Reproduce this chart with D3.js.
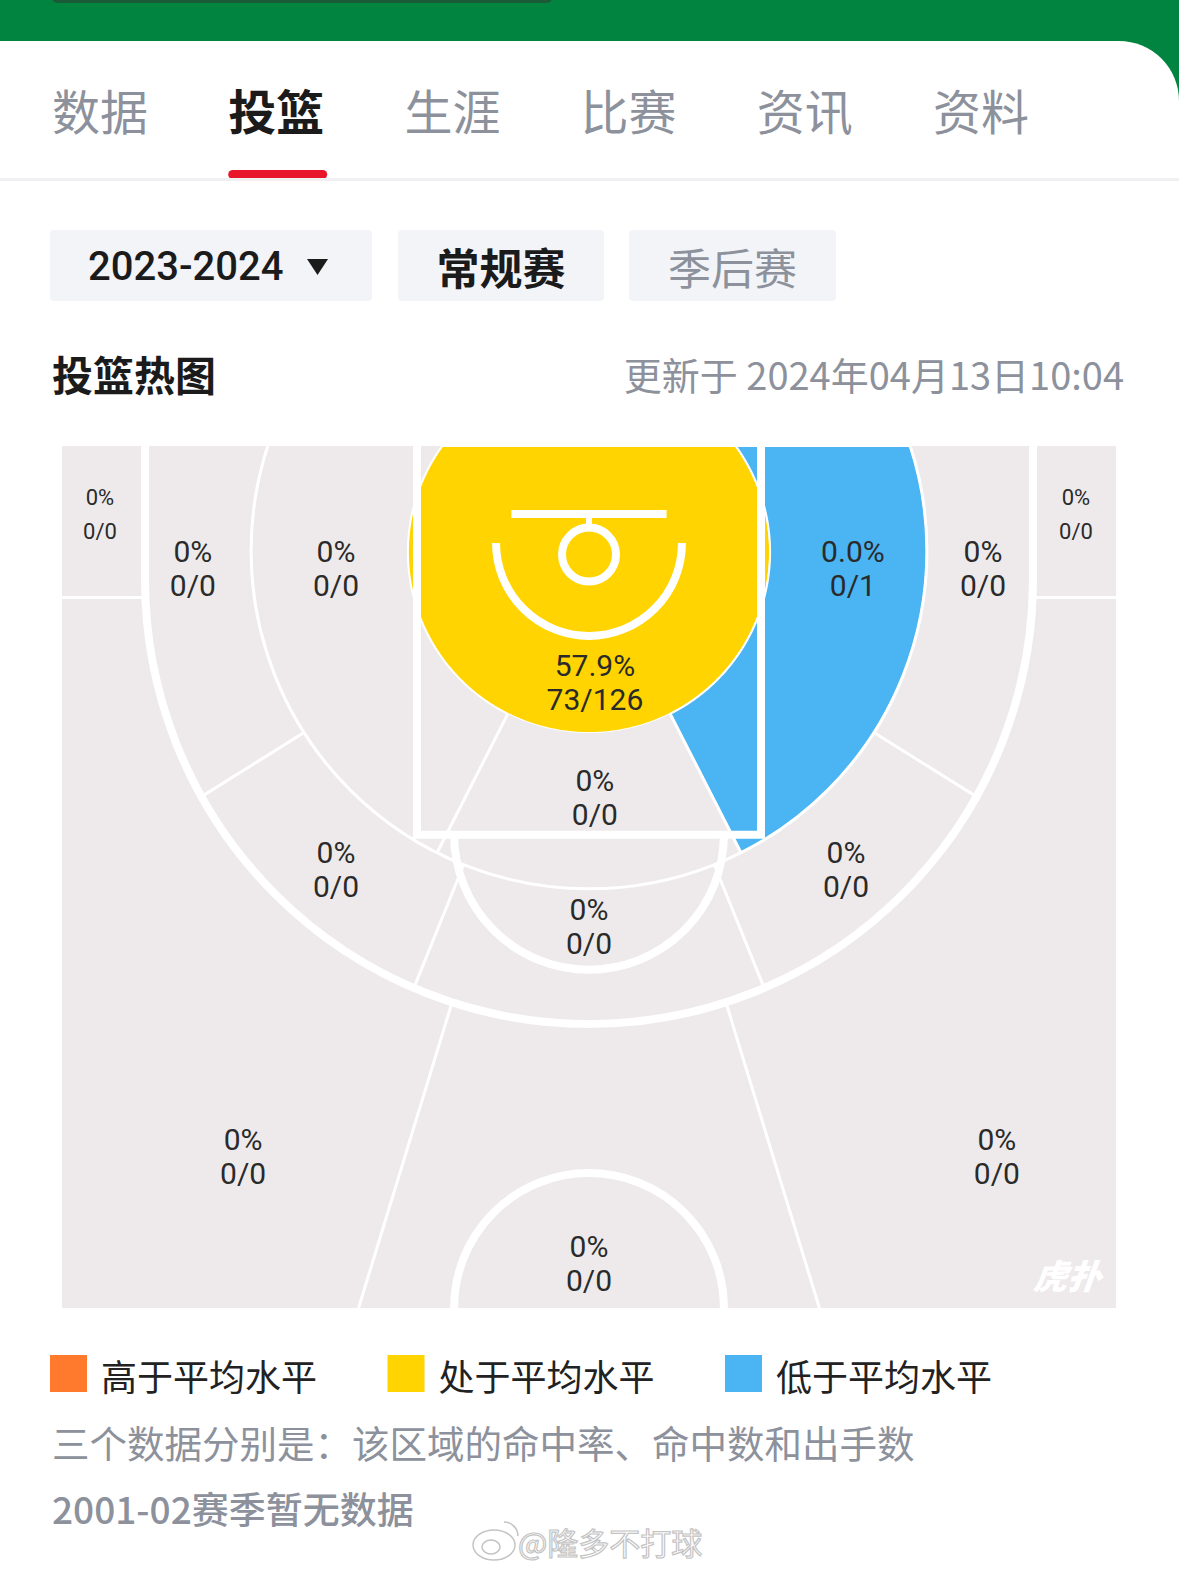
<!DOCTYPE html>
<html lang="zh">
<head>
<meta charset="utf-8">
<title>投篮热图</title>
<script src="https://cdn.jsdelivr.net/npm/d3@7"></script>
<style>
  body { margin: 0; background: #fff; }
  svg { display: block; }
</style>
</head>
<body>
<div id="chart"></div>
<script>
// ---- data ----
var zoneIds   = ['corner3L', 'corner3R', 'baseL', 'innerL', 'ra', 'innerR', 'baseR', 'paint', 'wingL', 'wingR', 'topMid', 'wing3L', 'wing3R', 'top3'];
var zonePct   = ['0%', '0%', '0%', '0%', '57.9%', '0.0%', '0%', '0%', '0%', '0%', '0%', '0%', '0%', '0%'];
var zoneMade  = [0, 0, 0, 0, 73, 0, 0, 0, 0, 0, 0, 0, 0, 0];
var zoneShots = [0, 0, 0, 0, 126, 1, 0, 0, 0, 0, 0, 0, 0, 0];
var zoneLevel = ['none', 'none', 'none', 'none', 'avg', 'below', 'none', 'none', 'none', 'none', 'none', 'none', 'none', 'none'];

var levelKeys   = ['above', 'avg', 'below'];
var levelLabels = ['高于平均水平', '处于平均水平', '低于平均水平'];

var tabLabels  = ['数据', '投篮', '生涯', '比赛', '资讯', '资料'];
var activeTab  = '投篮';
var seasonLabel = '2023-2024';
var typeLabels = ['常规赛', '季后赛'];
var activeType = '常规赛';
var titleLabel = '投篮热图';
var updatedLabel = '更新于 2024年04月13日10:04';
var noteLabel = '三个数据分别是：该区域的命中率、命中数和出手数';
var missingLabel = '2001-02赛季暂无数据';
var watermark = '@隆多不打球';

var color = d3.scaleOrdinal()
  .domain(['above', 'avg', 'below', 'none'])
  .range(['#ff7a2c', '#ffd400', '#4bb4f2', '#eeeaeb']);

var CJK = '"Noto Sans CJK SC", "Noto Sans", sans-serif';
var NUM = 'Roboto, "Noto Sans", sans-serif';

var W = 1179, H = 1572;
var svg = d3.select('#chart').append('svg').attr('width', W).attr('height', H);

// ---- page chrome ----
svg.append('rect').attr('width', W).attr('height', 130).attr('fill', '#00843f');
svg.append('rect').attr('x', 52).attr('y', -8).attr('width', 500).attr('height', 11).attr('rx', 5).attr('fill', '#1b5a37');
svg.append('path').attr('d', 'M0,41 H1119 A60,60 0 0 1 1179,101 V' + H + ' H0 Z').attr('fill', '#fff');

var tabX = d3.scalePoint().domain(tabLabels).range([52, 933]);
svg.selectAll('text.tab').data(tabLabels).enter().append('text')
  .attr('class', 'tab')
  .attr('x', function(d) { return tabX(d); })
  .attr('y', 109)
  .attr('dominant-baseline', 'central')
  .attr('font-family', CJK)
  .attr('font-size', 48)
  .attr('font-weight', function(d) { return d === activeTab ? 700 : 400; })
  .attr('fill', function(d) { return d === activeTab ? '#1b1b1b' : '#8c919c'; })
  .text(function(d) { return d; });
svg.append('rect').attr('x', tabX(activeTab)).attr('y', 170).attr('width', 99).attr('height', 9).attr('rx', 4.5).attr('fill', '#e9152b');
svg.append('rect').attr('x', 0).attr('y', 178).attr('width', W).attr('height', 3).attr('fill', '#f0f0f2');

// season + type selectors
svg.append('rect').attr('x', 50).attr('y', 230).attr('width', 322).attr('height', 71).attr('rx', 4).attr('fill', '#f2f4f8');
svg.append('text').attr('x', 88).attr('y', 266).attr('dominant-baseline', 'central')
  .attr('font-family', NUM).attr('font-size', 40).attr('font-weight', 500).attr('fill', '#1b1b1b')
  .text(seasonLabel);
svg.append('path').attr('d', 'M307,259 L328,259 L317.5,275 Z').attr('fill', '#1b1b1b');

var typeBox = [[398, 206], [629, 207]];
var typeG = svg.selectAll('g.type').data(typeLabels).enter().append('g').attr('class', 'type');
typeG.append('rect')
  .attr('x', function(d, i) { return typeBox[i][0]; }).attr('y', 230)
  .attr('width', function(d, i) { return typeBox[i][1]; }).attr('height', 71)
  .attr('rx', 4).attr('fill', '#f2f4f8');
typeG.append('text')
  .attr('x', function(d, i) { return typeBox[i][0] + typeBox[i][1] / 2; }).attr('y', 266)
  .attr('text-anchor', 'middle').attr('dominant-baseline', 'central')
  .attr('font-family', CJK).attr('font-size', 43)
  .attr('font-weight', function(d) { return d === activeType ? 700 : 400; })
  .attr('fill', function(d) { return d === activeType ? '#1b1b1b' : '#8c919c'; })
  .text(function(d) { return d; });

svg.append('text').attr('x', 52).attr('y', 373).attr('dominant-baseline', 'central')
  .attr('font-family', CJK).attr('font-size', 41).attr('font-weight', 700).attr('fill', '#1b1b1b')
  .text(titleLabel);
svg.append('text').attr('x', 1124).attr('y', 373).attr('dominant-baseline', 'central').attr('text-anchor', 'end')
  .attr('font-family', CJK).attr('font-size', 38).attr('fill', '#8c919c')
  .text(updatedLabel);

// ---- court, in feet with the baseline on top ----
var courtLen = 40.9;
var x = d3.scaleLinear().domain([-25, 25]).range([62, 1116]);
var y = d3.scaleLinear().domain([0, courtLen]).range([446, 1308]);
var k = x(1) - x(0);

var hoop = { x: 0, y: 5.15 };
var raCircle = { cx: 0, cy: 5.03, r: 8.59 };
var midArc = { cx: 0, cy: 4.98, r: 16.03 };
var three = { cx: 0, cy: 6.36, r: 21.06 };
var paintHalf = 8.16, paintLen = 18.45, ftR = 6.4, cornerY = 7.19;

// angle a in degrees from straight down, positive towards +x
function dir(a) { var t = a * Math.PI / 180; return [Math.sin(t), Math.cos(t)]; }
function hitCircle(c, a) {
  var d = dir(a), wx = hoop.x - c.cx, wy = hoop.y - c.cy;
  var b = wx * d[0] + wy * d[1];
  return -b + Math.sqrt(b * b - (wx * wx + wy * wy) + c.r * c.r);
}
function hitCourt(a) {
  var d = dir(a), t = Infinity;
  if (d[1] < -1e-9) t = Math.min(t, -hoop.y / d[1]);
  if (d[1] > 1e-9) t = Math.min(t, (courtLen - hoop.y) / d[1]);
  if (Math.abs(d[0]) > 1e-9) t = Math.min(t, 25 / Math.abs(d[0]));
  return t;
}
function hitThree(a) {
  var d = dir(a), t = hitCircle(three, a);
  if (hoop.y + t * d[1] < three.cy && Math.abs(d[0]) > 1e-9) t = three.r / Math.abs(d[0]);
  return t;
}
var bound = {
  hoop: function() { return 0; },
  ra: function(a) { return Math.min(hitCircle(raCircle, a), hitCourt(a)); },
  mid: function(a) { return Math.min(hitCircle(midArc, a), hitCourt(a)); },
  three: function(a) { return Math.min(hitThree(a), hitCourt(a)); },
  court: hitCourt,
  // beyond the arc, but not into the corner boxes
  court3: function(a) {
    var t = bound.three(a), d = dir(a);
    if (hoop.y + t * d[1] < cornerY) return t;
    return hitCourt(a);
  }
};

// zone outlines + where the label sits (feet)
var zoneShape = {
  corner3L: { rect: [-25, 0, -three.r, cornerY], label: [-23.2, 3.23], small: true },
  corner3R: { rect: [three.r, 0, 25, cornerY], label: [23.1, 3.23], small: true },
  baseL:  { from: -180, to: -58, inner: 'mid', outer: 'three', label: [-18.79, 5.83] },
  innerL: { from: -180, to: -27, inner: 'ra', outer: 'mid', label: [-12.0, 5.83] },
  ra:     { from: -180, to: 180, inner: 'hoop', outer: 'ra', label: [0.28, 11.24] },
  innerR: { from: 27, to: 180, inner: 'ra', outer: 'mid', label: [12.52, 5.83] },
  baseR:  { from: 58, to: 180, inner: 'mid', outer: 'three', label: [18.69, 5.83] },
  paint:  { from: -27, to: 27, inner: 'ra', outer: 'mid', label: [0.28, 16.7] },
  wingL:  { from: -58, to: -22, inner: 'mid', outer: 'three', label: [-12.0, 20.11] },
  wingR:  { from: 22, to: 58, inner: 'mid', outer: 'three', label: [12.19, 20.11] },
  topMid: { from: -22, to: 22, inner: 'mid', outer: 'three', label: [0, 22.82] },
  wing3L: { from: -180, to: -17, inner: 'three', outer: 'court3', label: [-16.41, 33.73] },
  wing3R: { from: 17, to: 180, inner: 'three', outer: 'court3', label: [19.35, 33.73] },
  top3:   { from: -17, to: 17, inner: 'three', outer: 'court', label: [0, 38.8] }
};

function zonePath(s) {
  if (s.rect) {
    var r = s.rect;
    return 'M' + x(r[0]) + ',' + y(r[1]) + 'H' + x(r[2]) + 'V' + y(r[3]) + 'H' + x(r[0]) + 'Z';
  }
  var n = 720, outer = [], inner = [];
  for (var i = 0; i <= n; i++) {
    var a = s.from + (s.to - s.from) * i / n, d = dir(a);
    var to = bound[s.outer](a), ti = bound[s.inner](a);
    outer.push([x(hoop.x + to * d[0]), y(hoop.y + to * d[1])]);
    inner.push([x(hoop.x + ti * d[0]), y(hoop.y + ti * d[1])]);
  }
  // a full turn around the hoop needs no inner edge (avoids a seam)
  if (s.inner === 'hoop') return d3.line()(outer) + 'Z';
  return d3.line()(outer.concat(inner.reverse())) + 'Z';
}

var zones = zoneIds.map(function(id, i) {
  return { id: id, pct: zonePct[i], made: zoneMade[i], shots: zoneShots[i], level: zoneLevel[i], shape: zoneShape[id] };
});

var defs = svg.append('defs');
defs.append('clipPath').attr('id', 'court-clip').append('rect')
  .attr('x', x(-25)).attr('y', y(0)).attr('width', x(25) - x(-25)).attr('height', y(courtLen) - y(0));

var court = svg.append('g').attr('clip-path', 'url(#court-clip)');
court.append('rect').attr('x', x(-25)).attr('y', y(0)).attr('width', x(25) - x(-25)).attr('height', y(courtLen) - y(0))
  .attr('fill', color('none'));

court.selectAll('path.zone').data(zones).enter().append('path')
  .attr('class', 'zone')
  .attr('d', function(d) { return zonePath(d.shape); })
  .attr('fill', function(d) { return color(d.level); })
  .attr('stroke', function(d) { return d.level === 'none' ? 'none' : '#fff'; })
  .attr('stroke-width', 2);

// thin zone dividers
var thin = court.append('g').attr('fill', 'none').attr('stroke', '#fff').attr('stroke-width', 3);
thin.append('circle').attr('cx', x(midArc.cx)).attr('cy', y(midArc.cy)).attr('r', midArc.r * k);
[-1, 1].forEach(function(s) {
  thin.append('line')
    .attr('x1', x(s * 25)).attr('x2', x(s * three.r)).attr('y1', y(cornerY)).attr('y2', y(cornerY));
});
var rays = [
  { a: 27, from: 'ra', to: 'mid' }, { a: -27, from: 'ra', to: 'mid' },
  { a: 22, from: 'mid', to: 'three' }, { a: -22, from: 'mid', to: 'three' },
  { a: 58, from: 'mid', to: 'three' }, { a: -58, from: 'mid', to: 'three' },
  { a: 17, from: 'three', to: 'court' }, { a: -17, from: 'three', to: 'court' }
];
thin.selectAll('line.ray').data(rays).enter().append('line')
  .attr('class', 'ray')
  .attr('x1', function(r) { return x(hoop.x + bound[r.from](r.a) * dir(r.a)[0]); })
  .attr('y1', function(r) { return y(hoop.y + bound[r.from](r.a) * dir(r.a)[1]); })
  .attr('x2', function(r) { return x(hoop.x + bound[r.to](r.a) * dir(r.a)[0]); })
  .attr('y2', function(r) { return y(hoop.y + bound[r.to](r.a) * dir(r.a)[1]); });

// court markings
var lines = court.append('g').attr('fill', 'none').attr('stroke', '#fff').attr('stroke-width', 8);
lines.append('path').attr('d',
  'M' + x(-three.r) + ',' + y(-1) + 'L' + x(-three.r) + ',' + y(three.cy) +
  'A' + three.r * k + ',' + three.r * k + ' 0 0 0 ' + x(three.r) + ',' + y(three.cy) +
  'L' + x(three.r) + ',' + y(-1));
lines.append('path').attr('d',
  'M' + x(-paintHalf) + ',' + y(-1) + 'L' + x(-paintHalf) + ',' + y(paintLen) +
  'L' + x(paintHalf) + ',' + y(paintLen) + 'L' + x(paintHalf) + ',' + y(-1));
lines.append('path').attr('d',
  'M' + x(-ftR) + ',' + y(paintLen) + 'A' + ftR * k + ',' + ftR * k + ' 0 0 0 ' + x(ftR) + ',' + y(paintLen));
var raArc = { cy: 4.6, r: 4.41 };
lines.append('path').attr('d',
  'M' + x(-raArc.r) + ',' + y(raArc.cy) + 'A' + raArc.r * k + ',' + raArc.r * k + ' 0 0 0 ' + x(raArc.r) + ',' + y(raArc.cy));
lines.append('circle').attr('cx', x(hoop.x)).attr('cy', y(hoop.y)).attr('r', 1.28 * k);
lines.append('line').attr('x1', x(-3.68)).attr('x2', x(3.68)).attr('y1', y(3.23)).attr('y2', y(3.23));
lines.append('line').attr('x1', x(0)).attr('x2', x(0)).attr('y1', y(3.23)).attr('y2', y(hoop.y - 1.28))
  .attr('stroke-width', 6);
lines.append('circle').attr('cx', x(0)).attr('cy', y(courtLen)).attr('r', 6.4 * k);

// zone labels
var labelG = court.selectAll('g.label').data(zones).enter().append('g')
  .attr('class', 'label')
  .attr('transform', function(d) { return 'translate(' + x(d.shape.label[0]) + ',' + y(d.shape.label[1]) + ')'; })
  .attr('font-family', NUM)
  .attr('font-size', function(d) { return d.shape.small ? 22 : 30; })
  .attr('fill', '#2a2a2a')
  .attr('text-anchor', 'middle');
labelG.append('text').attr('y', -17).attr('dominant-baseline', 'central').text(function(d) { return d.pct; });
labelG.append('text').attr('y', 17).attr('dominant-baseline', 'central').text(function(d) { return d.made + '/' + d.shots; });

// hupu mark
court.append('text').attr('x', 1068).attr('y', 1274)
  .attr('text-anchor', 'middle').attr('dominant-baseline', 'central')
  .attr('font-family', CJK).attr('font-size', 34).attr('font-weight', 900)
  .attr('font-style', 'italic').attr('fill', '#fff')
  .attr('transform', 'skewX(-6) translate(134,0)')
  .text('虎扑');

// ---- legend + notes ----
var legendX = d3.scalePoint().domain(levelKeys).range([50, 725]);
var legend = svg.selectAll('g.legend').data(levelKeys).enter().append('g')
  .attr('class', 'legend')
  .attr('transform', function(d) { return 'translate(' + legendX(d) + ',0)'; });
legend.append('rect').attr('y', 1355).attr('width', 37).attr('height', 37).attr('fill', function(d) { return color(d); });
legend.append('text').attr('x', 51).attr('y', 1375).attr('dominant-baseline', 'central')
  .attr('font-family', CJK).attr('font-size', 36).attr('fill', '#222')
  .text(function(d, i) { return levelLabels[i]; });

svg.append('text').attr('x', 52).attr('y', 1441).attr('dominant-baseline', 'central')
  .attr('font-family', CJK).attr('font-size', 37.5).attr('fill', '#8c919c')
  .text(noteLabel);
svg.append('text').attr('x', 52).attr('y', 1508).attr('dominant-baseline', 'central')
  .attr('font-family', CJK).attr('font-size', 37).attr('font-weight', 500).attr('fill', '#8c919c')
  .text(missingLabel);

// weibo watermark
var wm = svg.append('g').attr('fill', '#fff').attr('stroke', '#c4c4c4').attr('stroke-width', 1.5);
wm.append('ellipse').attr('cx', 494).attr('cy', 1545).attr('rx', 21).attr('ry', 15);
wm.append('ellipse').attr('cx', 491).attr('cy', 1547).attr('rx', 9).attr('ry', 7);
wm.append('path').attr('d', 'M504,1522 A14,14 0 0 1 518,1536').attr('fill', 'none');
wm.append('text').attr('x', 518).attr('y', 1541).attr('dominant-baseline', 'central')
  .attr('font-family', CJK).attr('font-size', 31).attr('stroke-width', 1.2)
  .text(watermark);
</script>
</body>
</html>
